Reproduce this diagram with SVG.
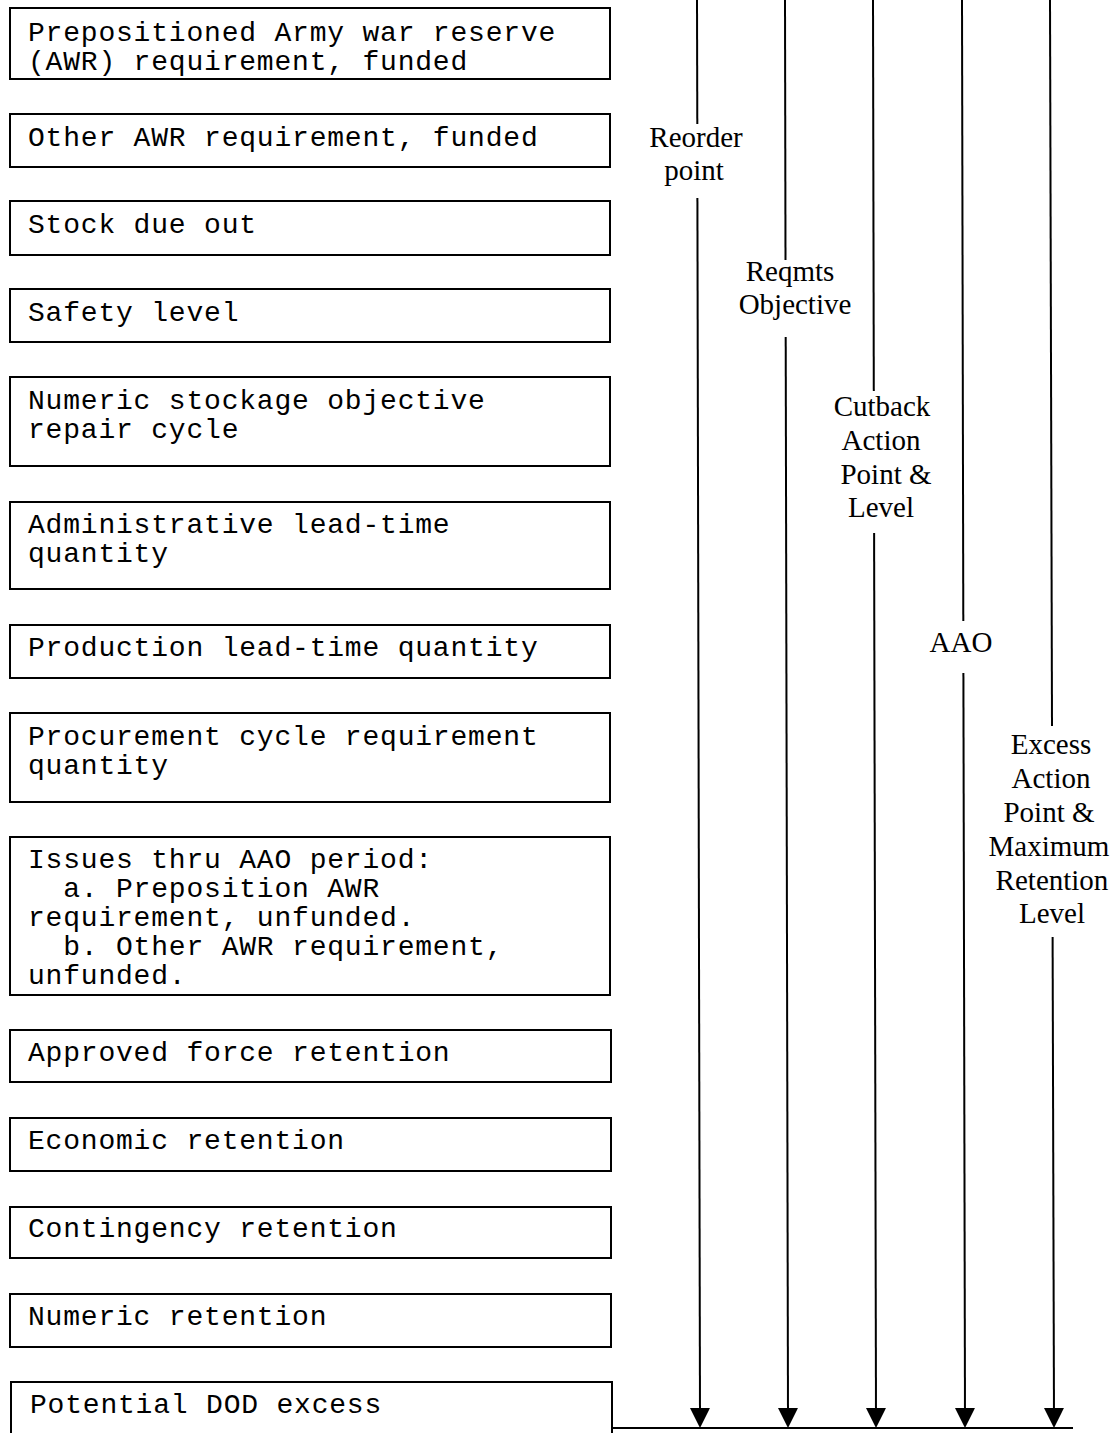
<svg xmlns="http://www.w3.org/2000/svg" width="1116" height="1433" viewBox="0 0 1116 1433">
<style>
.box{fill:#fff;stroke:#000;stroke-width:2}
.mono{font-family:"Liberation Mono","Courier New",monospace;font-size:28px;letter-spacing:0.8px;fill:#000;white-space:pre}
.lbl{font-family:"Liberation Serif","Times New Roman",serif;font-size:29px;fill:#000;text-anchor:middle}
.ln{fill:none;stroke:#000;stroke-width:2}
</style>
<defs>
<marker id="ah" viewBox="0 0 20 20" refX="10" refY="10" markerWidth="20" markerHeight="20" markerUnits="userSpaceOnUse" orient="auto">
<path d="M0,0 L20,10 L0,20 z" fill="#000"/>
</marker>
</defs>
<rect width="1116" height="1433" fill="#fff"/>
<g id="n1"><rect class="box" x="10" y="8" width="600" height="71"/><text class="mono" x="28" y="41" xml:space="preserve">Prepositioned Army war reserve</text><text class="mono" x="28" y="70" xml:space="preserve">(AWR) requirement, funded</text></g>
<g id="n2"><rect class="box" x="10" y="114" width="600" height="53"/><text class="mono" x="28" y="146" xml:space="preserve">Other AWR requirement, funded</text></g>
<g id="n3"><rect class="box" x="10" y="201" width="600" height="54"/><text class="mono" x="28" y="233" xml:space="preserve">Stock due out</text></g>
<g id="n4"><rect class="box" x="10" y="289" width="600" height="53"/><text class="mono" x="28" y="321" xml:space="preserve">Safety level</text></g>
<g id="n5"><rect class="box" x="10" y="377" width="600" height="89"/><text class="mono" x="28" y="409" xml:space="preserve">Numeric stockage objective</text><text class="mono" x="28" y="438" xml:space="preserve">repair cycle</text></g>
<g id="n6"><rect class="box" x="10" y="502" width="600" height="87"/><text class="mono" x="28" y="533" xml:space="preserve">Administrative lead-time</text><text class="mono" x="28" y="562" xml:space="preserve">quantity</text></g>
<g id="n7"><rect class="box" x="10" y="625" width="600" height="53"/><text class="mono" x="28" y="656" xml:space="preserve">Production lead-time quantity</text></g>
<g id="n8"><rect class="box" x="10" y="713" width="600" height="89"/><text class="mono" x="28" y="745" xml:space="preserve">Procurement cycle requirement</text><text class="mono" x="28" y="774" xml:space="preserve">quantity</text></g>
<g id="n9"><rect class="box" x="10" y="837" width="600" height="158"/><text class="mono" x="28" y="868" xml:space="preserve">Issues thru AAO period:</text><text class="mono" x="28" y="897" xml:space="preserve">  a. Preposition AWR</text><text class="mono" x="28" y="926" xml:space="preserve">requirement, unfunded.</text><text class="mono" x="28" y="955" xml:space="preserve">  b. Other AWR requirement,</text><text class="mono" x="28" y="984" xml:space="preserve">unfunded.</text></g>
<g id="n10"><rect class="box" x="10" y="1030" width="601" height="52"/><text class="mono" x="28" y="1061" xml:space="preserve">Approved force retention</text></g>
<g id="n11"><rect class="box" x="10" y="1118" width="601" height="53"/><text class="mono" x="28" y="1149" xml:space="preserve">Economic retention</text></g>
<g id="n12"><rect class="box" x="10" y="1207" width="601" height="51"/><text class="mono" x="28" y="1237" xml:space="preserve">Contingency retention</text></g>
<g id="n13"><rect class="box" x="10" y="1294" width="601" height="53"/><text class="mono" x="28" y="1325" xml:space="preserve">Numeric retention</text></g>
<g id="n14"><rect class="box" x="11" y="1382" width="601" height="70"/><text class="mono" x="30" y="1413" xml:space="preserve">Potential DOD excess</text></g>
<g id="labels">
<g id="l-reorder"><text class="lbl" x="696" y="147">Reorder</text><text class="lbl" x="694" y="180">point</text></g>
<g id="l-reqmts"><text class="lbl" x="790" y="281">Reqmts</text><text class="lbl" x="795" y="314">Objective</text></g>
<g id="l-cutback"><text class="lbl" x="882" y="416">Cutback</text><text class="lbl" x="881" y="450">Action</text><text class="lbl" x="886" y="484">Point &amp;</text><text class="lbl" x="881" y="517">Level</text></g>
<g id="l-aao"><text class="lbl" x="961" y="652">AAO</text></g>
<g id="l-excess"><text class="lbl" x="1051" y="754">Excess</text><text class="lbl" x="1051" y="788">Action</text><text class="lbl" x="1049" y="822">Point &amp;</text><text class="lbl" x="1049" y="856">Maximum</text><text class="lbl" x="1052" y="890">Retention</text><text class="lbl" x="1052" y="923">Level</text></g>
</g>
<g id="connectors">
<path class="ln" d="M697,0 L697.3,124"/>
<path class="ln" d="M697.4,198 L700,1418" marker-end="url(#ah)"/>
<path class="ln" d="M785,0 L785.5,260"/>
<path class="ln" d="M785.7,337 L788,1418" marker-end="url(#ah)"/>
<path class="ln" d="M873,0 L873.8,391"/>
<path class="ln" d="M874.1,533 L876,1418" marker-end="url(#ah)"/>
<path class="ln" d="M962,0 L963.3,621"/>
<path class="ln" d="M963.4,673 L965,1418" marker-end="url(#ah)"/>
<path class="ln" d="M1050,0 L1052,726"/>
<path class="ln" d="M1052.6,937 L1054,1418" marker-end="url(#ah)"/>
<path class="ln" d="M612,1428 L1073,1428"/>
</g>
</svg>
